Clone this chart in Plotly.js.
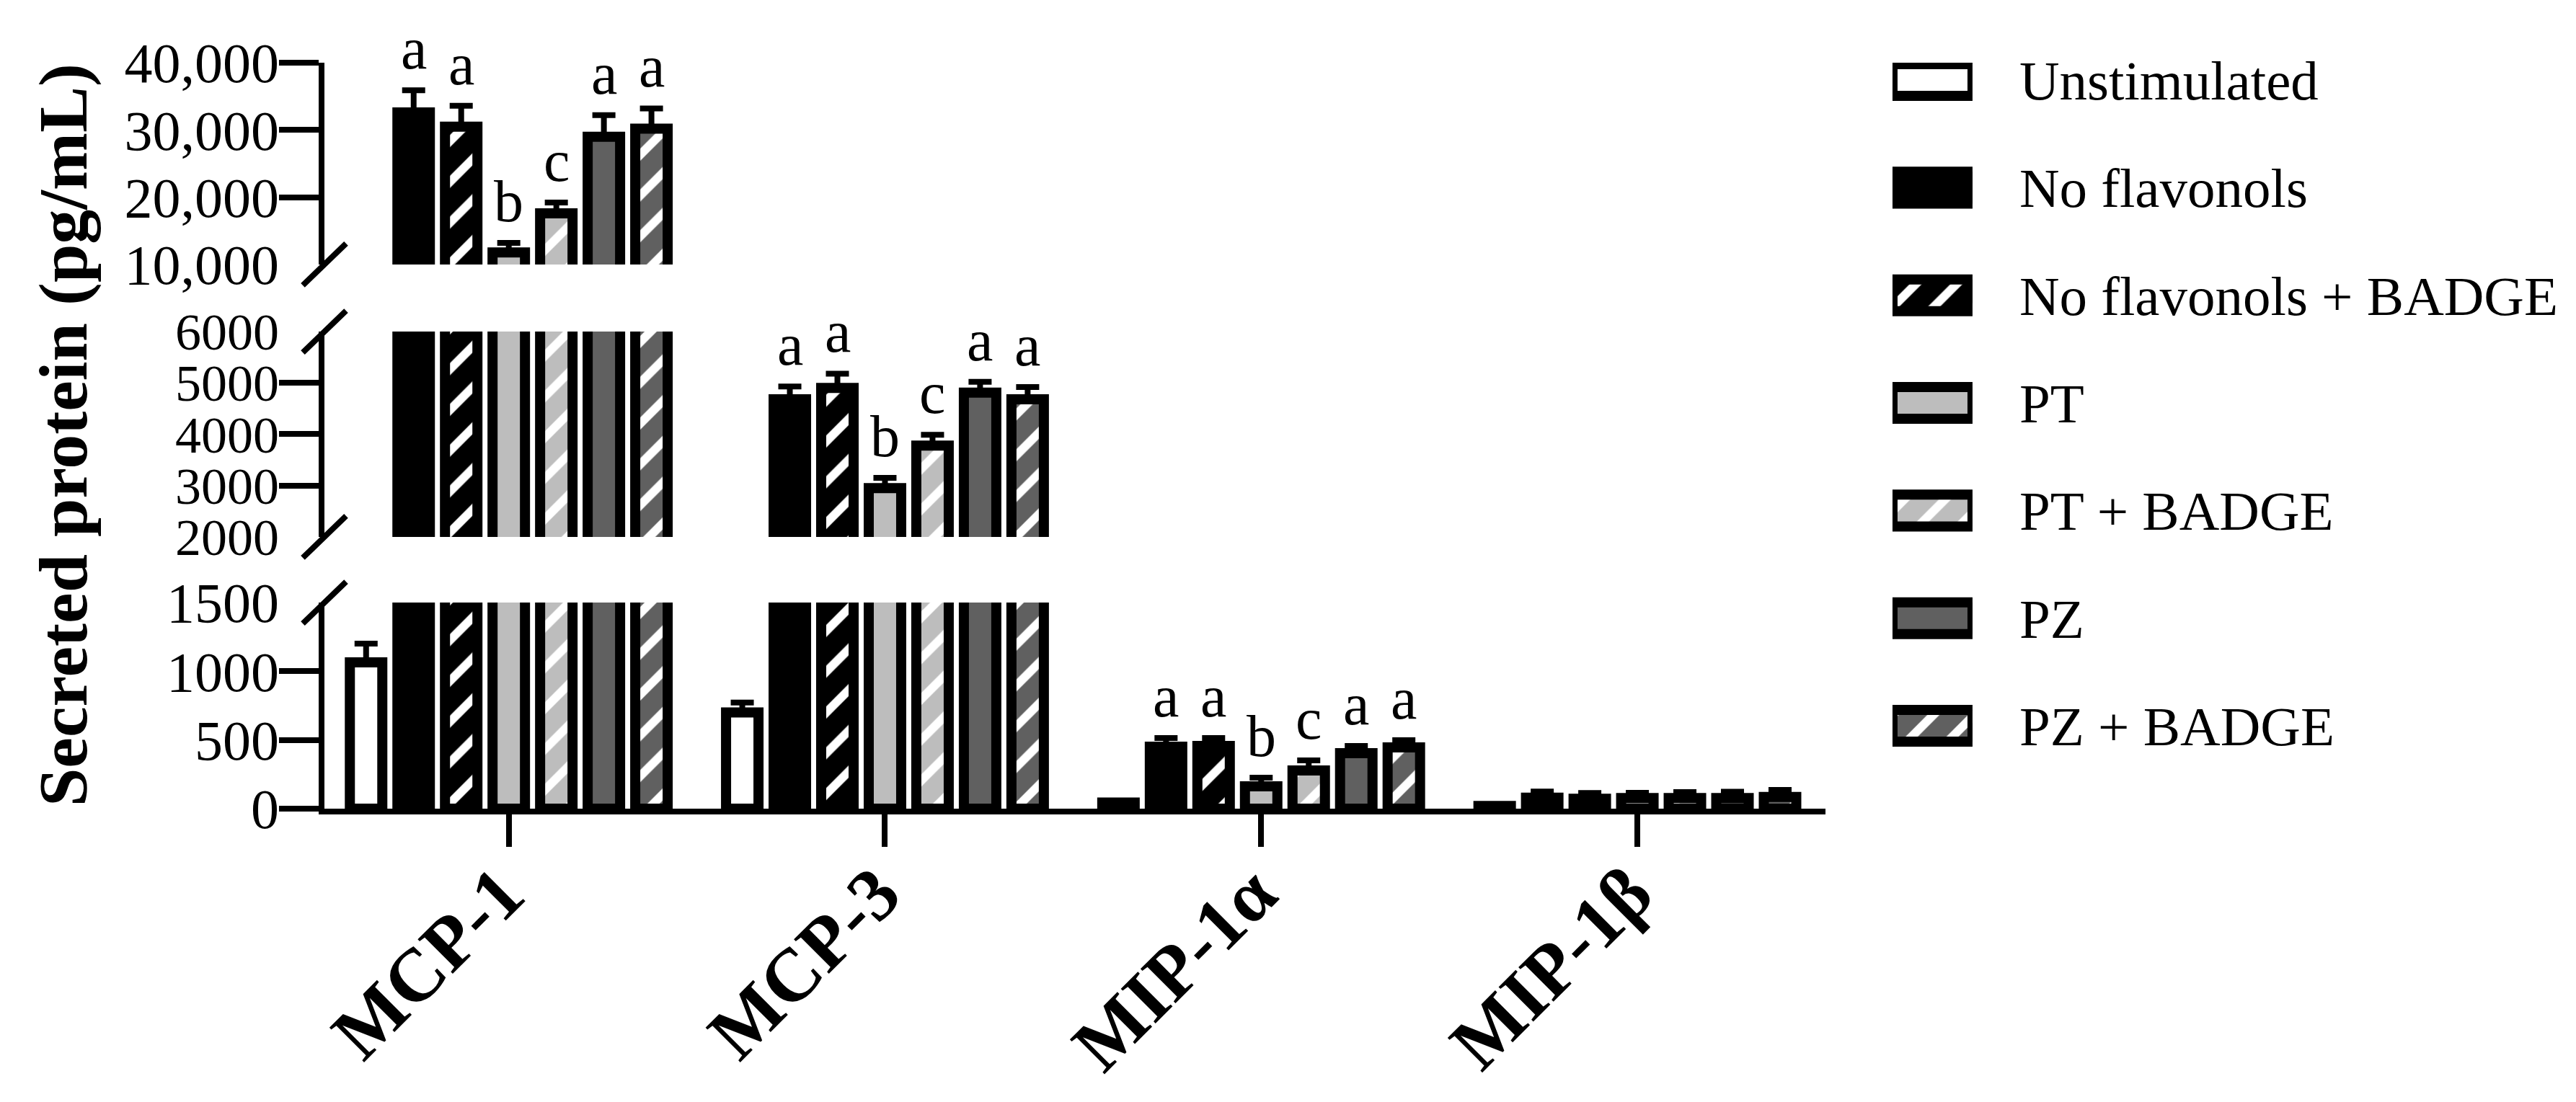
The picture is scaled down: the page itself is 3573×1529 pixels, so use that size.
<!DOCTYPE html>
<html>
<head>
<meta charset="utf-8">
<script src="https://cdn.plot.ly/plotly-3.0.1.min.js"></script>
<style>
  html, body { margin: 0; padding: 0; background: #fff; }
  #plot { width: 3573px; height: 1529px; }
</style>
</head>
<body>
<div id="plot"></div>
<script>
const cytokines = ['MCP-1', 'MCP-3', 'MIP-1α', 'MIP-1β'];
const groups = ['Unstimulated', 'No flavonols', 'No flavonols + BADGE', 'PT', 'PT + BADGE', 'PZ', 'PZ + BADGE'];

// means (pg/mL), one value per cytokine
const unstimulated     = [1065, 700, 45, 20];
const noFlavonols      = [32600, 4680, 451, 80];
const noFlavonolsBadge = [30500, 4900, 456, 72];
const pt               = [11800, 2950, 163, 78];
const ptBadge          = [17600, 3780, 278, 78];
const pz               = [29000, 4810, 404, 78];
const pzBadge          = [30200, 4680, 446, 85];

// upper error bars
const unstimulatedErr     = [136, 73, 8, 6];
const noFlavonolsErr      = [3300, 250, 63, 45];
const noFlavonolsBadgeErr = [3100, 280, 58, 42];
const ptErr               = [1400, 200, 63, 38];
const ptBadgeErr          = [1600, 210, 73, 42];
const pzErr               = [3200, 210, 52, 45];
const pzBadgeErr          = [3000, 240, 52, 52];

// significance letters
const unstimulatedLetters     = ['', '', '', ''];
const noFlavonolsLetters      = ['a', 'a', 'a', ''];
const noFlavonolsBadgeLetters = ['a', 'a', 'a', ''];
const ptLetters               = ['b', 'b', 'b', ''];
const ptBadgeLetters          = ['c', 'c', 'c', ''];
const pzLetters               = ['a', 'a', 'a', ''];
const pzBadgeLetters          = ['a', 'a', 'a', ''];

const values  = [unstimulated, noFlavonols, noFlavonolsBadge, pt, ptBadge, pz, pzBadge];
const errors  = [unstimulatedErr, noFlavonolsErr, noFlavonolsBadgeErr, ptErr, ptBadgeErr, pzErr, pzBadgeErr];
const letters = [unstimulatedLetters, noFlavonolsLetters, noFlavonolsBadgeLetters, ptLetters,
                 ptBadgeLetters, pzLetters, pzBadgeLetters];

// which broken-axis segment the letters of each cytokine sit in
const letterAxis = ['y3', 'y2', 'y', 'y'];

const FONT = 'Liberation Serif, Times New Roman, serif';
const LIGHT = '#bdbdbd';
const DARK = '#606060';
const fills = [
  {color: '#ffffff', striped: false},
  {color: '#000000', striped: false},
  {color: '#000000', striped: true},
  {color: LIGHT, striped: false},
  {color: LIGHT, striped: true},
  {color: DARK, striped: false},
  {color: DARK, striped: true},
];

const BARGAP = 0.115;
const slot = (1 - BARGAP) / groups.length;

function makeMarker(i) {
  const f = fills[i];
  const marker = {
    color: f.color,
    line: {color: '#000', width: 14},
  };
  if (f.striped) {
    marker.pattern = {
      shape: '/',
      bgcolor: f.color,
      fgcolor: '#ffffff',
      fgopacity: 1,
      size: 40,
      solidity: 0.3,
    };
  }
  return marker;
}

function makeBarTrace(i, yaxis) {
  return {
    type: 'bar',
    x: cytokines,
    y: values[i],
    name: groups[i],
    xaxis: 'x',
    yaxis,
    showlegend: false,
    hoverinfo: 'x+y+name',
    marker: makeMarker(i),
    error_y: {
      type: 'data',
      symmetric: false,
      array: errors[i],
      arrayminus: errors[i].map(() => 0),
      color: '#000',
      thickness: 8,
      width: 16,
    },
  };
}

// swatches drawn as bars in a small side panel
function makeSwatchTrace(i) {
  return {
    type: 'bar',
    orientation: 'h',
    x: [1],
    y: [groups[i]],
    base: 0,
    width: 0.295,
    offset: -0.1475,
    xaxis: 'x2',
    yaxis: 'y4',
    cliponaxis: false,
    showlegend: false,
    hoverinfo: 'skip',
    marker: makeMarker(i),
  };
}

const data = [];
['y', 'y2', 'y3'].forEach(ax => {
  groups.forEach((g, i) => data.push(makeBarTrace(i, ax)));
});
groups.forEach((g, i) => data.push(makeSwatchTrace(i)));
// empty traces so the tick-label axes get drawn
['y5', 'y6', 'y7'].forEach(ax => data.push({
  type: 'scatter', x: [], y: [], xaxis: 'x', yaxis: ax,
  showlegend: false, hoverinfo: 'skip',
}));

const annotations = [];
values.forEach((vals, i) => {
  vals.forEach((v, c) => {
    if (!letters[i][c]) return;
    annotations.push({
      x: c + (i - 3) * slot,
      y: v + errors[i][c],
      xref: 'x',
      yref: letterAxis[c],
      text: letters[i][c],
      showarrow: false,
      yanchor: 'bottom',
      yshift: 10,
      font: {family: FONT, size: 82, color: '#000'},
    });
  });
});
annotations.push({
  text: 'Secreted protein (pg/mL)',
  xref: 'paper', yref: 'paper',
  x: -0.1171, y: 0.5014,
  xanchor: 'center', yanchor: 'middle',
  textangle: -90,
  showarrow: false,
  font: {family: FONT, size: 96, weight: 'bold', color: '#000'},
});

// axis break marks
const breaks = [['y3 domain', 0], ['y2 domain', 1], ['y2 domain', 0], ['y domain', 1]];
const shapes = breaks.map(([yref, yanchor]) => ({
  type: 'line',
  xref: 'x domain', yref,
  xsizemode: 'pixel', ysizemode: 'pixel',
  xanchor: 0, yanchor,
  x0: -30, x1: 30, y0: -29, y1: 29,
  line: {color: '#000', width: 8},
}));

function lineAxis(domain, range, tickvals) {
  return {
    domain, range, tickvals,
    anchor: 'x',
    showline: true, linewidth: 8, linecolor: '#000',
    ticks: 'outside', ticklen: 55, tickwidth: 8, tickcolor: '#000',
    showticklabels: false,
    showgrid: false, zeroline: false,
  };
}

function labelAxis(over, range, tickvals, tickformat, size) {
  return {
    overlaying: over, range, tickvals, tickformat,
    anchor: 'x',
    showline: false, ticks: '',
    ticklabelstandoff: 62,
    tickfont: {family: FONT, size, color: '#000'},
    showgrid: false, zeroline: false,
  };
}

const layout = {
  width: 3573,
  height: 1529,
  paper_bgcolor: '#fff',
  plot_bgcolor: '#fff',
  margin: {l: 450, r: 23, t: 87, b: 407},
  font: {family: FONT, size: 78, color: '#000'},
  barmode: 'group',
  bargap: BARGAP,
  bargroupgap: 0.318,
  showlegend: false,
  xaxis: {
    domain: [0, 0.6716],
    anchor: 'y',
    type: 'category',
    range: [-0.49, 3.5],
    showline: true, linewidth: 8, linecolor: '#000',
    ticks: 'outside', ticklen: 45, tickwidth: 8, tickcolor: '#000',
    tickangle: -45,
    ticklabelstandoff: -38,
    ticklabelshift: -10,
    tickfont: {family: FONT, size: 104, weight: 'bold', color: '#000'},
    showgrid: false, zeroline: false,
  },
  yaxis:  lineAxis([0, 0.2763], [0, 1500], [0, 500, 1000]),
  yaxis2: lineAxis([0.3643, 0.6396], [2000, 6000], [3000, 4000, 5000]),
  yaxis3: lineAxis([0.7295, 1], [10000, 40000], [20000, 30000, 40000]),
  yaxis5: labelAxis('y', [0, 1500], [0, 500, 1000, 1500], 'd', 78),
  yaxis6: labelAxis('y2', [2000, 6000], [2000, 3000, 4000, 5000, 6000], 'd', 72),
  yaxis7: labelAxis('y3', [10000, 40000], [10000, 20000, 30000, 40000], ',.0f', 78),
  xaxis2: {
    domain: [0.7016, 0.7374],
    anchor: 'y4',
    range: [0, 1],
    visible: false,
  },
  yaxis4: {
    domain: [0.0678, 1],
    anchor: 'x2',
    type: 'category',
    categoryorder: 'array',
    categoryarray: groups,
    range: [6.3, -0.161],
    side: 'right',
    showline: false, ticks: '',
    ticklabelstandoff: 64,
    tickfont: {family: FONT, size: 77, color: '#000'},
    showgrid: false, zeroline: false,
  },
  annotations,
  shapes,
};

Plotly.newPlot('plot', data, layout, {displayModeBar: false, responsive: false});
</script>
</body>
</html>
